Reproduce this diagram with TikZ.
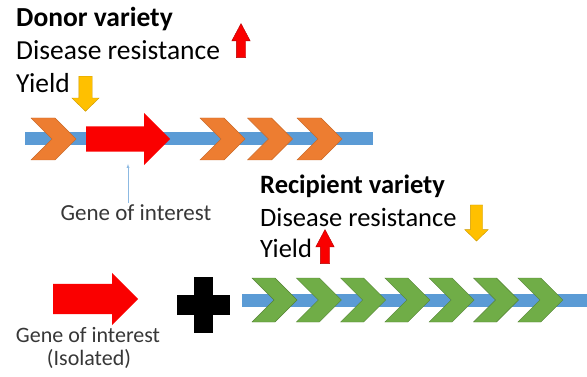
\documentclass[tikz,border=0pt]{standalone}
\usepackage{fontspec}
\setmainfont{Carlito}
\usetikzlibrary{shapes.arrows, shapes.symbols, positioning}
\definecolor{cBar}{RGB}{91,155,213}
\definecolor{cOrange}{RGB}{237,125,49}
\definecolor{cGreen}{RGB}{112,173,71}
\definecolor{cRed}{RGB}{250,0,0}
\definecolor{cYellow}{RGB}{255,192,0}
\definecolor{cGray}{RGB}{55,55,55}

\begin{document}
\begin{tikzpicture}[x=1pt, y=-1pt, >=latex]

    \tikzstyle{heading} = [anchor=base west, inner sep=0pt, font=\fontsize{27.5}{33}\selectfont\bfseries]
    \tikzstyle{trait} = [anchor=base west, inner sep=0pt, font=\fontsize{27.5}{33}\selectfont]
    \tikzstyle{note} = [anchor=base, inner sep=0pt, text=cGray, font=\fontsize{22}{26}\selectfont]
    \tikzstyle{bar} = [rectangle, fill=cBar, inner sep=0pt, minimum height=13, anchor=west]
    \tikzstyle{chev} = [signal, signal from=west, signal to=east, signal pointer angle=90, inner sep=0pt, minimum width=45, minimum height=42, thin]
    \tikzstyle{gene} = [single arrow, fill=cRed, inner xsep=0pt, single arrow tip angle=90, anchor=west]
    \tikzstyle{updown} = [single arrow, inner xsep=0pt, thin]

    \useasboundingbox (0,0) rectangle (587,377);

    % Donor variety
    \node[heading] (donor) at (16,27) {Donor variety};
    \node[trait] (dres) at (16,60) {Disease resistance};
    \node[trait] (dyield) at (16,93) {Yield};
    \node[updown, fill=cRed, draw=red!70!black, rotate=90, minimum height=34, inner ysep=4.5, single arrow head extend=4.5, single arrow tip angle=56] (dresup) at (241,45) {};
    \node[updown, fill=cYellow, draw=cYellow!80!black, rotate=-90, minimum height=35, inner ysep=6.5, single arrow head extend=7, single arrow tip angle=92] (dyielddown) at (85.5,90.5) {};

    % Donor chromosome
    \node[bar, minimum width=348] (dbar) at (25,138.5) {};
    \foreach \cx [count=\i] in {53.5, 222.5, 270, 319.5}
        \node[chev, fill=cOrange, draw=cOrange!85!black] (dchev\i) at (\cx,139) {};
    \node[gene, minimum height=84, inner ysep=12.5, single arrow head extend=13.5] (dgene) at (86,139) {};

    % Gene of interest pointer
    \node[note, font=\fontsize{23}{27}\selectfont] (goi) at (136,221) {Gene of interest};
    \coordinate (goitip) at (128,164);
    \draw[->, cBar!70, thin] ([yshift=2pt]goi.north -| goitip) -- (goitip);

    % Recipient variety
    \node[heading, font=\fontsize{26.5}{32}\selectfont\bfseries] (recip) at (260,194) {Recipient variety};
    \node[trait, font=\fontsize{26.5}{32}\selectfont] (rres) at (260,226) {Disease resistance};
    \node[trait, font=\fontsize{26.5}{32}\selectfont] (ryield) at (260,258) {Yield};
    \node[updown, fill=cYellow, draw=cYellow!80!black, rotate=-90, minimum height=36, inner ysep=6, single arrow head extend=5.5, single arrow tip angle=92] (rresdown) at (476.5,220) {};
    \node[updown, fill=cRed, draw=red!70!black, rotate=90, minimum height=34, inner ysep=4.5, single arrow head extend=4.5, single arrow tip angle=56] (ryieldup) at (325,251) {};

    % Recipient chromosome
    \node[bar, minimum width=345] (rbar) at (242,300) {};
    \foreach \i in {0,...,6}
        \node[chev, fill=cGreen, draw=cGreen!75!black, minimum height=44] (rchev\i) at (274.5+44.3*\i,300) {};

    % Isolated gene plus recipient
    \node[gene, minimum height=85, inner ysep=15, single arrow head extend=11] (igene) at (53,299) {};
    \fill (194,277) rectangle (213,333);
    \fill (177,295) rectangle (230,315);
    \node[note] (isolab) at (88,342) {Gene of interest};
    \node[note] (isolab2) at (89,365) {(Isolated)};
\end{tikzpicture}
\end{document}
